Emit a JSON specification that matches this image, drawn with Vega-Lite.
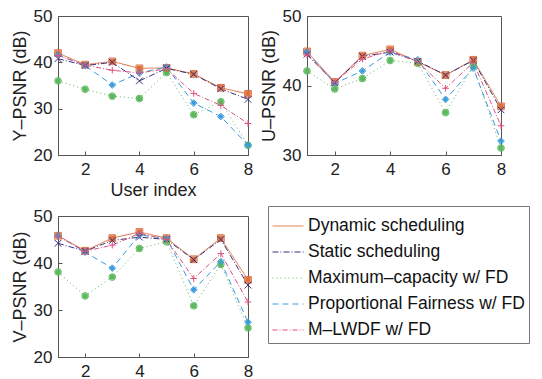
{
  "$schema": "https://vega.github.io/schema/vega-lite/v6.json",
  "padding": {"left": 10, "top": 6, "right": 0, "bottom": 0},
  "background": "white",
  "data": {"values": [
    {"c":"Y","user":1,"series":"Dynamic scheduling","psnr":42.0},
    {"c":"Y","user":2,"series":"Dynamic scheduling","psnr":39.5},
    {"c":"Y","user":3,"series":"Dynamic scheduling","psnr":40.2},
    {"c":"Y","user":4,"series":"Dynamic scheduling","psnr":38.7},
    {"c":"Y","user":5,"series":"Dynamic scheduling","psnr":38.8},
    {"c":"Y","user":6,"series":"Dynamic scheduling","psnr":37.5},
    {"c":"Y","user":7,"series":"Dynamic scheduling","psnr":34.5},
    {"c":"Y","user":8,"series":"Dynamic scheduling","psnr":33.2},
    {"c":"Y","user":1,"series":"Static scheduling","psnr":40.8},
    {"c":"Y","user":2,"series":"Static scheduling","psnr":39.3},
    {"c":"Y","user":3,"series":"Static scheduling","psnr":40.0},
    {"c":"Y","user":4,"series":"Static scheduling","psnr":36.0},
    {"c":"Y","user":5,"series":"Static scheduling","psnr":38.7},
    {"c":"Y","user":6,"series":"Static scheduling","psnr":37.4},
    {"c":"Y","user":7,"series":"Static scheduling","psnr":34.3},
    {"c":"Y","user":8,"series":"Static scheduling","psnr":32.0},
    {"c":"Y","user":1,"series":"Maximum–capacity w/ FD","psnr":36.0},
    {"c":"Y","user":2,"series":"Maximum–capacity w/ FD","psnr":34.2},
    {"c":"Y","user":3,"series":"Maximum–capacity w/ FD","psnr":32.7},
    {"c":"Y","user":4,"series":"Maximum–capacity w/ FD","psnr":32.2},
    {"c":"Y","user":5,"series":"Maximum–capacity w/ FD","psnr":37.8},
    {"c":"Y","user":6,"series":"Maximum–capacity w/ FD","psnr":28.7},
    {"c":"Y","user":7,"series":"Maximum–capacity w/ FD","psnr":31.5},
    {"c":"Y","user":8,"series":"Maximum–capacity w/ FD","psnr":22.1},
    {"c":"Y","user":1,"series":"Proportional Fairness w/ FD","psnr":41.6},
    {"c":"Y","user":2,"series":"Proportional Fairness w/ FD","psnr":39.3},
    {"c":"Y","user":3,"series":"Proportional Fairness w/ FD","psnr":35.1},
    {"c":"Y","user":4,"series":"Proportional Fairness w/ FD","psnr":37.7},
    {"c":"Y","user":5,"series":"Proportional Fairness w/ FD","psnr":39.0},
    {"c":"Y","user":6,"series":"Proportional Fairness w/ FD","psnr":31.2},
    {"c":"Y","user":7,"series":"Proportional Fairness w/ FD","psnr":28.3},
    {"c":"Y","user":8,"series":"Proportional Fairness w/ FD","psnr":22.1},
    {"c":"Y","user":1,"series":"M–LWDF w/ FD","psnr":41.5},
    {"c":"Y","user":2,"series":"M–LWDF w/ FD","psnr":39.4},
    {"c":"Y","user":3,"series":"M–LWDF w/ FD","psnr":38.3},
    {"c":"Y","user":4,"series":"M–LWDF w/ FD","psnr":37.7},
    {"c":"Y","user":5,"series":"M–LWDF w/ FD","psnr":38.6},
    {"c":"Y","user":6,"series":"M–LWDF w/ FD","psnr":33.3},
    {"c":"Y","user":7,"series":"M–LWDF w/ FD","psnr":30.7},
    {"c":"Y","user":8,"series":"M–LWDF w/ FD","psnr":26.8},
    {"c":"U","user":1,"series":"Dynamic scheduling","psnr":44.9},
    {"c":"U","user":2,"series":"Dynamic scheduling","psnr":40.5},
    {"c":"U","user":3,"series":"Dynamic scheduling","psnr":44.3},
    {"c":"U","user":4,"series":"Dynamic scheduling","psnr":45.2},
    {"c":"U","user":5,"series":"Dynamic scheduling","psnr":43.4},
    {"c":"U","user":6,"series":"Dynamic scheduling","psnr":41.5},
    {"c":"U","user":7,"series":"Dynamic scheduling","psnr":43.7},
    {"c":"U","user":8,"series":"Dynamic scheduling","psnr":37.0},
    {"c":"U","user":1,"series":"Static scheduling","psnr":44.5},
    {"c":"U","user":2,"series":"Static scheduling","psnr":40.4},
    {"c":"U","user":3,"series":"Static scheduling","psnr":44.2},
    {"c":"U","user":4,"series":"Static scheduling","psnr":44.8},
    {"c":"U","user":5,"series":"Static scheduling","psnr":43.5},
    {"c":"U","user":6,"series":"Static scheduling","psnr":41.5},
    {"c":"U","user":7,"series":"Static scheduling","psnr":43.6},
    {"c":"U","user":8,"series":"Static scheduling","psnr":36.5},
    {"c":"U","user":1,"series":"Maximum–capacity w/ FD","psnr":42.1},
    {"c":"U","user":2,"series":"Maximum–capacity w/ FD","psnr":39.5},
    {"c":"U","user":3,"series":"Maximum–capacity w/ FD","psnr":41.0},
    {"c":"U","user":4,"series":"Maximum–capacity w/ FD","psnr":43.6},
    {"c":"U","user":5,"series":"Maximum–capacity w/ FD","psnr":43.2},
    {"c":"U","user":6,"series":"Maximum–capacity w/ FD","psnr":36.1},
    {"c":"U","user":7,"series":"Maximum–capacity w/ FD","psnr":42.8},
    {"c":"U","user":8,"series":"Maximum–capacity w/ FD","psnr":31.0},
    {"c":"U","user":1,"series":"Proportional Fairness w/ FD","psnr":44.8},
    {"c":"U","user":2,"series":"Proportional Fairness w/ FD","psnr":40.3},
    {"c":"U","user":3,"series":"Proportional Fairness w/ FD","psnr":42.1},
    {"c":"U","user":4,"series":"Proportional Fairness w/ FD","psnr":44.8},
    {"c":"U","user":5,"series":"Proportional Fairness w/ FD","psnr":43.7},
    {"c":"U","user":6,"series":"Proportional Fairness w/ FD","psnr":38.0},
    {"c":"U","user":7,"series":"Proportional Fairness w/ FD","psnr":42.5},
    {"c":"U","user":8,"series":"Proportional Fairness w/ FD","psnr":32.0},
    {"c":"U","user":1,"series":"M–LWDF w/ FD","psnr":44.4},
    {"c":"U","user":2,"series":"M–LWDF w/ FD","psnr":40.5},
    {"c":"U","user":3,"series":"M–LWDF w/ FD","psnr":43.8},
    {"c":"U","user":4,"series":"M–LWDF w/ FD","psnr":45.0},
    {"c":"U","user":5,"series":"M–LWDF w/ FD","psnr":43.4},
    {"c":"U","user":6,"series":"M–LWDF w/ FD","psnr":39.6},
    {"c":"U","user":7,"series":"M–LWDF w/ FD","psnr":43.3},
    {"c":"U","user":8,"series":"M–LWDF w/ FD","psnr":34.2},
    {"c":"V","user":1,"series":"Dynamic scheduling","psnr":45.8},
    {"c":"V","user":2,"series":"Dynamic scheduling","psnr":42.6},
    {"c":"V","user":3,"series":"Dynamic scheduling","psnr":45.3},
    {"c":"V","user":4,"series":"Dynamic scheduling","psnr":46.6},
    {"c":"V","user":5,"series":"Dynamic scheduling","psnr":45.3},
    {"c":"V","user":6,"series":"Dynamic scheduling","psnr":40.8},
    {"c":"V","user":7,"series":"Dynamic scheduling","psnr":45.3},
    {"c":"V","user":8,"series":"Dynamic scheduling","psnr":36.4},
    {"c":"V","user":1,"series":"Static scheduling","psnr":44.2},
    {"c":"V","user":2,"series":"Static scheduling","psnr":42.5},
    {"c":"V","user":3,"series":"Static scheduling","psnr":44.8},
    {"c":"V","user":4,"series":"Static scheduling","psnr":45.5},
    {"c":"V","user":5,"series":"Static scheduling","psnr":45.0},
    {"c":"V","user":6,"series":"Static scheduling","psnr":40.7},
    {"c":"V","user":7,"series":"Static scheduling","psnr":45.0},
    {"c":"V","user":8,"series":"Static scheduling","psnr":35.3},
    {"c":"V","user":1,"series":"Maximum–capacity w/ FD","psnr":38.1},
    {"c":"V","user":2,"series":"Maximum–capacity w/ FD","psnr":33.0},
    {"c":"V","user":3,"series":"Maximum–capacity w/ FD","psnr":37.0},
    {"c":"V","user":4,"series":"Maximum–capacity w/ FD","psnr":43.1},
    {"c":"V","user":5,"series":"Maximum–capacity w/ FD","psnr":44.5},
    {"c":"V","user":6,"series":"Maximum–capacity w/ FD","psnr":30.9},
    {"c":"V","user":7,"series":"Maximum–capacity w/ FD","psnr":39.7},
    {"c":"V","user":8,"series":"Maximum–capacity w/ FD","psnr":26.2},
    {"c":"V","user":1,"series":"Proportional Fairness w/ FD","psnr":45.8},
    {"c":"V","user":2,"series":"Proportional Fairness w/ FD","psnr":42.3},
    {"c":"V","user":3,"series":"Proportional Fairness w/ FD","psnr":38.9},
    {"c":"V","user":4,"series":"Proportional Fairness w/ FD","psnr":46.0},
    {"c":"V","user":5,"series":"Proportional Fairness w/ FD","psnr":45.2},
    {"c":"V","user":6,"series":"Proportional Fairness w/ FD","psnr":34.3},
    {"c":"V","user":7,"series":"Proportional Fairness w/ FD","psnr":40.3},
    {"c":"V","user":8,"series":"Proportional Fairness w/ FD","psnr":27.4},
    {"c":"V","user":1,"series":"M–LWDF w/ FD","psnr":45.7},
    {"c":"V","user":2,"series":"M–LWDF w/ FD","psnr":42.5},
    {"c":"V","user":3,"series":"M–LWDF w/ FD","psnr":43.8},
    {"c":"V","user":4,"series":"M–LWDF w/ FD","psnr":46.3},
    {"c":"V","user":5,"series":"M–LWDF w/ FD","psnr":45.0},
    {"c":"V","user":6,"series":"M–LWDF w/ FD","psnr":36.7},
    {"c":"V","user":7,"series":"M–LWDF w/ FD","psnr":42.0},
    {"c":"V","user":8,"series":"M–LWDF w/ FD","psnr":31.7}
  ]},
  "config": {
    "view": {"stroke": "#555", "strokeWidth": 1},
    "font": "Liberation Sans",
    "line": {"strokeWidth": 1},
    "axis": {
      "grid": false,
      "domainColor": "#555",
      "tickColor": "#555",
      "tickSize": -4,
      "labelPadding": 10,
      "labelFont": "Liberation Sans",
      "labelFontSize": 17,
      "labelColor": "#222",
      "labelFlush": false,
      "labelOverlap": false,
      "titleFont": "Liberation Sans",
      "titleFontSize": 18,
      "titleFontWeight": "normal",
      "titleColor": "#222",
      "titlePadding": 4
    },
    "legend": {
      "orient": "none",
      "legendX": 210,
      "legendY": 190,
      "strokeColor": "#777",
      "fillColor": "white",
      "padding": 4,
      "labelFont": "Liberation Sans",
      "labelFontSize": 17.5,
      "labelColor": "#111",
      "labelLimit": 400,
      "labelOffset": 4,
      "rowPadding": 1,
      "symbolType": "stroke",
      "symbolSize": 961,
      "symbolStrokeWidth": 1.2
    }
  },
  "spacing": {"row": 61, "column": 59},
  "bounds": "flush",
  "columns": 2,
  "concat": [
    {
      "width": 190, "height": 139,
      "transform": [{"filter": "datum.c === 'Y'"}],
      "encoding": {
        "x": {"field": "user", "type": "quantitative", "scale": {"domain": [1, 8], "nice": false, "zero": false}, "axis": {"values": [2, 4, 6, 8], "title": "User index"}},
        "y": {"field": "psnr", "type": "quantitative", "scale": {"domain": [20, 50], "nice": false, "zero": false}, "axis": {"values": [20, 30, 40, 50], "title": "Y–PSNR (dB)"}},
        "color": {"field": "series", "type": "nominal", "title": null,
          "scale": {"domain": ["Dynamic scheduling", "Static scheduling", "Maximum–capacity w/ FD", "Proportional Fairness w/ FD", "M–LWDF w/ FD"], "range": ["#dd7040", "#3b2f80", "#5cb85c", "#3a9be0", "#e0507e"]},
          "legend": {
            "symbolType": "stroke",
            "rowPadding": 1,
            "encode": {"symbols": {
              "fill": {"value": "transparent"},
              "shape": {"value": {"expr": "datum.value === 'Dynamic scheduling' ? 'M-1,0H1M-0.2,-0.2H0.2V0.2H-0.2Z' : datum.value === 'Static scheduling' ? 'M-1,0H1M-0.18,-0.18L0.18,0.18M-0.18,0.18L0.18,-0.18' : datum.value === 'Maximum–capacity w/ FD' ? 'M-1,0H1M0.22,0A0.22,0.22 0 1,1 -0.22,0A0.22,0.22 0 1,1 0.22,0' : datum.value === 'Proportional Fairness w/ FD' ? 'M-1,0H1M0,-0.26L0.2,0L0,0.26L-0.2,0Z' : 'M-1,0H1M0,-0.24V0.24'"}},
              "strokeDash": {"value": {"expr": "datum.value === 'Dynamic scheduling' ? [1, 0] : datum.value === 'Static scheduling' ? [6, 2, 1, 2] : datum.value === 'Maximum–capacity w/ FD' ? [1, 3] : datum.value === 'Proportional Fairness w/ FD' ? [6, 4] : [5, 2, 1, 2]"}}
            }}
          }},
        "shape": {"condition": [
          {"test": "datum.series === 'Dynamic scheduling'", "value": "square"},
          {"test": "datum.series === 'Static scheduling'", "value": "M-1,-1L1,1M-1,1L1,-1"},
          {"test": "datum.series === 'Maximum–capacity w/ FD'", "value": "circle"},
          {"test": "datum.series === 'Proportional Fairness w/ FD'", "value": "diamond"}
        ], "value": "M-1,0L1,0M0,-1L0,1"}
      },
      "layer": [
        {"mark": {"type": "line"},
         "encoding": {"strokeDash": {"field": "series", "type": "nominal", "legend": null,
           "scale": {"domain": ["Dynamic scheduling", "Static scheduling", "Maximum–capacity w/ FD", "Proportional Fairness w/ FD", "M–LWDF w/ FD"], "range": [[1, 0], [6, 2, 1, 2], [1, 3], [6, 4], [5, 2, 1, 2]]}}}},
        {"mark": {"type": "point", "filled": false, "fillOpacity": 0, "size": 45, "strokeWidth": 1, "opacity": 1}}
      ]
    },
    {
      "width": 194, "height": 139,
      "transform": [{"filter": "datum.c === 'U'"}],
      "encoding": {
        "x": {"field": "user", "type": "quantitative", "scale": {"domain": [1, 8], "nice": false, "zero": false}, "axis": {"values": [2, 4, 6, 8], "title": null}},
        "y": {"field": "psnr", "type": "quantitative", "scale": {"domain": [30, 50], "nice": false, "zero": false}, "axis": {"values": [30, 40, 50], "title": "U–PSNR (dB)"}},
        "color": {"field": "series", "type": "nominal", "title": null},
        "shape": {"condition": [
          {"test": "datum.series === 'Dynamic scheduling'", "value": "square"},
          {"test": "datum.series === 'Static scheduling'", "value": "M-1,-1L1,1M-1,1L1,-1"},
          {"test": "datum.series === 'Maximum–capacity w/ FD'", "value": "circle"},
          {"test": "datum.series === 'Proportional Fairness w/ FD'", "value": "diamond"}
        ], "value": "M-1,0L1,0M0,-1L0,1"}
      },
      "layer": [
        {"mark": {"type": "line"},
         "encoding": {"strokeDash": {"field": "series", "type": "nominal", "legend": null}}},
        {"mark": {"type": "point", "filled": false, "fillOpacity": 0, "size": 45, "strokeWidth": 1, "opacity": 1}}
      ]
    },
    {
      "width": 190, "height": 141,
      "transform": [{"filter": "datum.c === 'V'"}],
      "encoding": {
        "x": {"field": "user", "type": "quantitative", "scale": {"domain": [1, 8], "nice": false, "zero": false}, "axis": {"values": [2, 4, 6, 8], "title": null}},
        "y": {"field": "psnr", "type": "quantitative", "scale": {"domain": [20, 50], "nice": false, "zero": false}, "axis": {"values": [20, 30, 40, 50], "title": "V–PSNR (dB)"}},
        "color": {"field": "series", "type": "nominal", "title": null},
        "shape": {"condition": [
          {"test": "datum.series === 'Dynamic scheduling'", "value": "square"},
          {"test": "datum.series === 'Static scheduling'", "value": "M-1,-1L1,1M-1,1L1,-1"},
          {"test": "datum.series === 'Maximum–capacity w/ FD'", "value": "circle"},
          {"test": "datum.series === 'Proportional Fairness w/ FD'", "value": "diamond"}
        ], "value": "M-1,0L1,0M0,-1L0,1"}
      },
      "layer": [
        {"mark": {"type": "line"},
         "encoding": {"strokeDash": {"field": "series", "type": "nominal", "legend": null}}},
        {"mark": {"type": "point", "filled": false, "fillOpacity": 0, "size": 45, "strokeWidth": 1, "opacity": 1}}
      ]
    }
  ],
  "resolve": {"scale": {"x": "independent", "y": "independent"}}
}
